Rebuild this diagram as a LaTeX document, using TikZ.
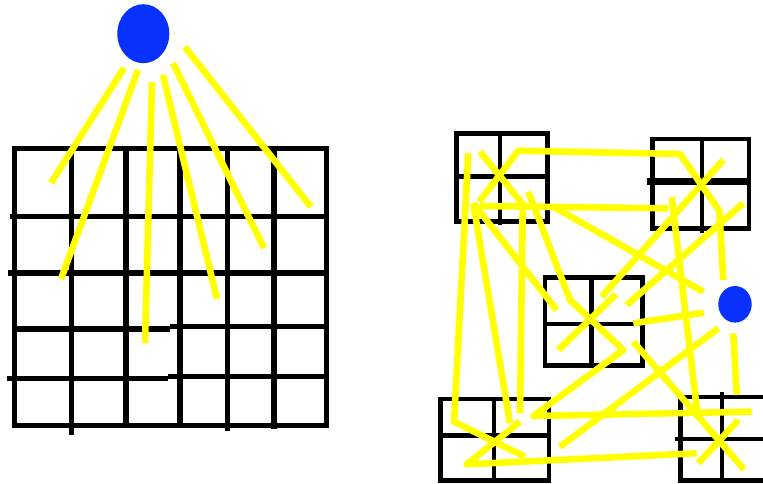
\documentclass[tikz,border=0pt]{standalone}
\usetikzlibrary{shapes.geometric}
\definecolor{sunyellow}{RGB}{255,255,0}
\definecolor{sunblue}{RGB}{8,48,255}
\begin{document}
\begin{tikzpicture}[x=1pt,y=-1pt,
  grid/.style={line width=5.3pt, black},
  boxline/.style={line width=4.6pt, black},
  ray/.style={line width=6.6pt, draw=sunyellow, line cap=butt, line join=round},
  sun/.style={fill=sunblue, draw=none, ellipse, inner sep=0pt}]
\useasboundingbox (0,0) rectangle (763,484);
\clip (0,0) rectangle (763,484);
% ---------- left grid ----------
\draw[grid] (14.3,148.7) rectangle (326.7,425.7);
\draw[grid] (71.7,148.7) -- (71.7,435);
\draw[grid] (126,148.7) -- (126,425.7);
\draw[grid] (180,148.7) -- (180,425.7);
\draw[grid] (227.7,148.7) -- (227.7,430.7);
\draw[grid] (274,148.7) -- (274,429);
\draw[grid] (10,216.7) -- (326.7,216.7);
\draw[grid] (8,273) -- (326.7,273);
\draw[grid] (14.3,329) -- (170,329) (170,326.7) -- (326.7,326.7);
\draw[grid] (7.3,378.3) -- (168,378.3) (168,376.7) -- (326.7,376.7);
% ---------- left sun and rays ----------
\draw[ray] (124,68) -- (51,183);
\draw[ray] (138,70) -- (61,279);
\draw[ray] (152,82) -- (145,343);
\draw[ray] (163,75) -- (217,299);
\draw[ray] (173,63) -- (264,248);
\draw[ray] (185,47) -- (311,207);
\node[sun, minimum width=52pt, minimum height=59pt] (sunA) at (143.3,33.7) {};
% ---------- right boxes ----------
% top-left box
\draw[boxline] (456.3,133.3) rectangle (547.3,221.7);
\draw[boxline] (500,133.3) -- (500,225);
\draw[boxline] (456.3,176.7) -- (547.3,176.7);
% top-right box
\draw[boxline] (652.3,139) rectangle (749,228.3);
\draw[boxline] (702,139) -- (702,233);
\draw[line width=7.5pt] (647,181.7) -- (749,181.7);
% middle box
\draw[boxline] (545,277.3) rectangle (642.3,365.7);
\draw[boxline] (591.7,277.3) -- (591.7,365.7);
\draw[boxline] (545,324) -- (642.3,324);
% bottom-left box
\draw[boxline] (440.3,399) rectangle (549,480.7);
\draw[boxline] (494,399) -- (494,480.7);
\draw[boxline] (440.3,435.3) -- (549,435.3);
% bottom-right box
\draw[boxline] (680.7,397) rectangle (775,480.7);
\draw[boxline] (722,391.7) -- (722,480.7);
\draw[boxline] (675,439) -- (775,439);
% ---------- right rays ----------
\draw[ray] (479.3,201.7) -- (518.3,150.7) -- (680,154) -- (719.3,210.7) -- (723.3,280);
\draw[ray] (480,151.7) -- (522.7,204) -- (520,413.3);
\draw[ray] (468.3,153.3) -- (454,421.7) -- (525,456.7);
\draw[ray] (473.3,203.3) -- (510,423.3);
\draw[ray] (473.3,203.3) -- (556.7,310);
\draw[ray] (480,206) -- (668.3,208.3);
\draw[ray] (553.3,206.7) -- (703.3,291.7);
\draw[ray] (528.3,191.7) -- (570,300) -- (623.3,350) -- (533.3,416) -- (751.7,411.7);
\draw[ray] (723.3,160) -- (601.7,296.7);
\draw[ray] (743.3,203.3) -- (626.7,305);
\draw[ray] (671.7,197.3) -- (697.5,414);
\draw[ray] (633.3,341.7) -- (744,469.3);
\draw[ray] (698.3,463.3) -- (738.3,420);
\draw[ray] (633.3,323.3) -- (704,312.7);
\draw[ray] (560,446.7) -- (718.3,328.3);
\draw[ray] (733.3,333.3) -- (736.7,395);
\draw[ray] (696.7,453.3) -- (466.7,464.3) -- (520,421.7);
\draw[ray] (558.3,350) -- (616,294.3);
% ---------- right sun ----------
\node[sun, minimum width=33.4pt, minimum height=36.6pt] (sunB) at (735,304.3) {};
\end{tikzpicture}
\end{document}
